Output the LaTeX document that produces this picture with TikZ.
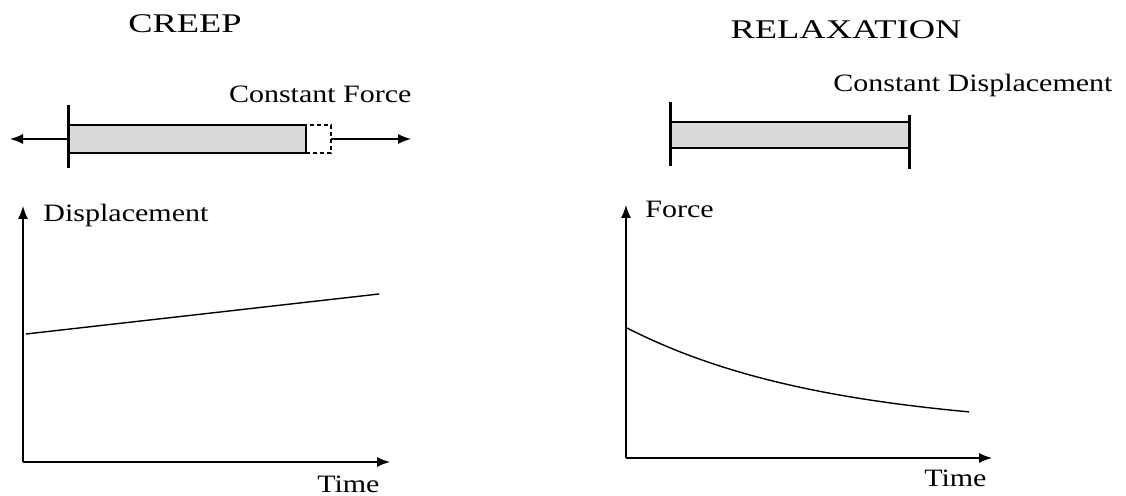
\documentclass[tikz,border=0pt]{standalone}
\usepackage{fontspec}
\setmainfont{Liberation Serif}
\usetikzlibrary{arrows.meta,positioning}
\definecolor{barfill}{gray}{0.85}

\begin{document}
\begin{tikzpicture}[x=0.5pt,y=-0.5pt,>={Latex[length=6.5pt,width=5pt]},
  lbl/.style={font=\fontsize{12.5}{15}\selectfont,inner sep=0pt,xscale=1.2},
  ttl/.style={font=\fontsize{13.5}{16}\selectfont,inner sep=0pt,xscale=1.35},
  axis/.style={line width=0.7pt},
  bar/.style={line width=1.5pt}]
\useasboundingbox (0,0) rectangle (1126,496);

% creep
\node (creep) [ttl,anchor=base] at (185,33) {CREEP};
\node (cforce) [lbl,anchor=base east] at (412,103) {Constant Force};
\draw[fill=barfill,line width=0.6pt] (68,125) rectangle (306,153);
\draw[dashed,dash pattern=on 2pt off 1.5pt,line width=0.6pt] (68,125) rectangle (331,153);
\coordinate (cl) at (68,139);
\coordinate (cr) at (331,139);
\draw[bar] (68,105) -- (68,168);
\draw[->,axis] (cl) -- +(-58,0);
\draw[->,axis] (cr) -- +(80,0);

\coordinate (o1) at (23,462);
\draw[->,axis] (o1) -- (23,206);
\draw[->,axis] (o1) -- (390,462);
\node (disp) [lbl,anchor=base west] at (43,222) {Displacement};
\node (time1) [lbl,anchor=base east] at (380,493) {Time};
\draw[axis] (26,334) -- (379,294);

% relaxation
\node (relax) [ttl,anchor=base] at (846,39) {RELAXATION};
\node (cdisp) [lbl,anchor=base east] at (1113,92) {Constant Displacement};
\draw[fill=barfill,line width=0.6pt] (670,122) rectangle (909,148);
\draw[bar] (670,102) -- (670,166);
\draw[bar] (909,115) -- (909,169);

\coordinate (o2) at (626,458);
\draw[->,axis] (o2) -- (626,205);
\draw[->,axis] (o2) -- (992,458);
\node (force) [lbl,anchor=base west] at (645,218) {Force};
\node (time2) [lbl,anchor=base east] at (987,487) {Time};
\draw[axis] plot[domain=0:342,samples=40] ({627+\x},{328+102.4*(1-exp(-\x/200))});
\end{tikzpicture}
\end{document}
